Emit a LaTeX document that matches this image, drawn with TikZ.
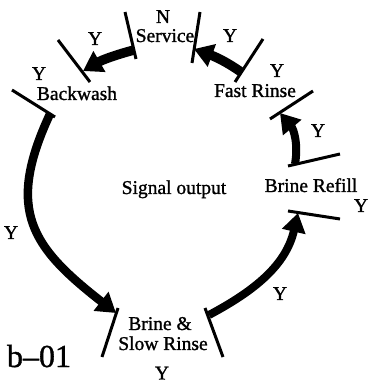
\documentclass[tikz,border=0pt]{standalone}
\usepackage{fontspec}
\setmainfont{Liberation Serif}[RawFeature={embolden=1.2}]
\usetikzlibrary{arrows.meta}
\begin{document}
\begin{tikzpicture}[x=1pt,y=1pt,
  tick/.style={line width=3pt},
  flow/.style={line width=#1, -{Triangle[length=19pt,width=23pt]}},
  lbl/.style={anchor=base, inner sep=0pt, font=\fontsize{19.5}{22}\selectfont},
  big/.style={anchor=base, inner sep=0pt, font=\fontsize{32}{36}\selectfont}
]
\useasboundingbox (0,0) rectangle (367,383);
% tick end points
\coordinate (t1a) at (125,371); \coordinate (t1b) at (136,324);
\coordinate (t2a) at (58,343);  \coordinate (t2b) at (90,301);
\coordinate (t3a) at (12,293);  \coordinate (t3b) at (55,266);
\coordinate (t4a) at (200,371); \coordinate (t4b) at (192,320);
\coordinate (t5a) at (263,344); \coordinate (t5b) at (235,301);
\coordinate (t6a) at (313,292); \coordinate (t6b) at (270,264);
\coordinate (t7a) at (340,229); \coordinate (t7b) at (288,217);
\coordinate (t8a) at (288,172); \coordinate (t8b) at (340,164);
\coordinate (t9a) at (118,75);  \coordinate (t9b) at (102,26);
\coordinate (t10a) at (205,75); \coordinate (t10b) at (223,26);
\foreach \t in {1,...,10} {\draw[tick] (t\t a) -- (t\t b);}
% arrow end points
\coordinate (a1s) at (134,333); \coordinate (a1e) at (83,312);
\coordinate (a2s) at (241,311); \coordinate (a2e) at (194,334);
\coordinate (a3s) at (295,219); \coordinate (a3e) at (280,270);
\coordinate (a4s) at (209,68);  \coordinate (a4e) at (298,170);
\coordinate (a5s) at (50,269);  \coordinate (a5e) at (116,70);
\draw[flow=9.5pt] (a1s) to[out=195,in=30] (a1e);
\draw[flow=9.5pt] (a2s) to[out=145,in=-20] (a2e);
\draw[flow=8pt] (a3s) to[out=80,in=-50] (a3e);
\draw[flow=8pt] (a4s) to[out=28,in=257] (a4e);
\draw[flow=8.5pt] (a5s) to[out=245,in=142,looseness=1.3] (a5e);
% labels
\node[lbl] (n) at (163,360) {N};
\node[lbl] (service) at (165,341) {Service};
\node[lbl] (y1) at (95,338) {Y};
\node[lbl] (y2) at (39,303) {Y};
\node[lbl] (backwash) at (77,283) {Backwash};
\node[lbl] (y3) at (230,341) {Y};
\node[lbl] (y4) at (277,306) {Y};
\node[lbl] (fast) at (255,286) {Fast Rinse};
\node[lbl] (y5) at (318,246) {Y};
\node[lbl] (refill) at (311,191) {Brine Refill};
\node[lbl] (y6) at (361,171) {Y};
\node[lbl] (signal) at (174,189) {Signal output};
\node[lbl] (y7) at (11,144) {Y};
\node[lbl] (y8) at (280,83) {Y};
\node[lbl] (brine) at (160,53) {Brine \&};
\node[lbl] (slow) at (163,33) {Slow Rinse};
\node[lbl] (y9) at (162,3.5) {Y};
\node[big] (code) at (39,16) {b–01};
\end{tikzpicture}
\end{document}
